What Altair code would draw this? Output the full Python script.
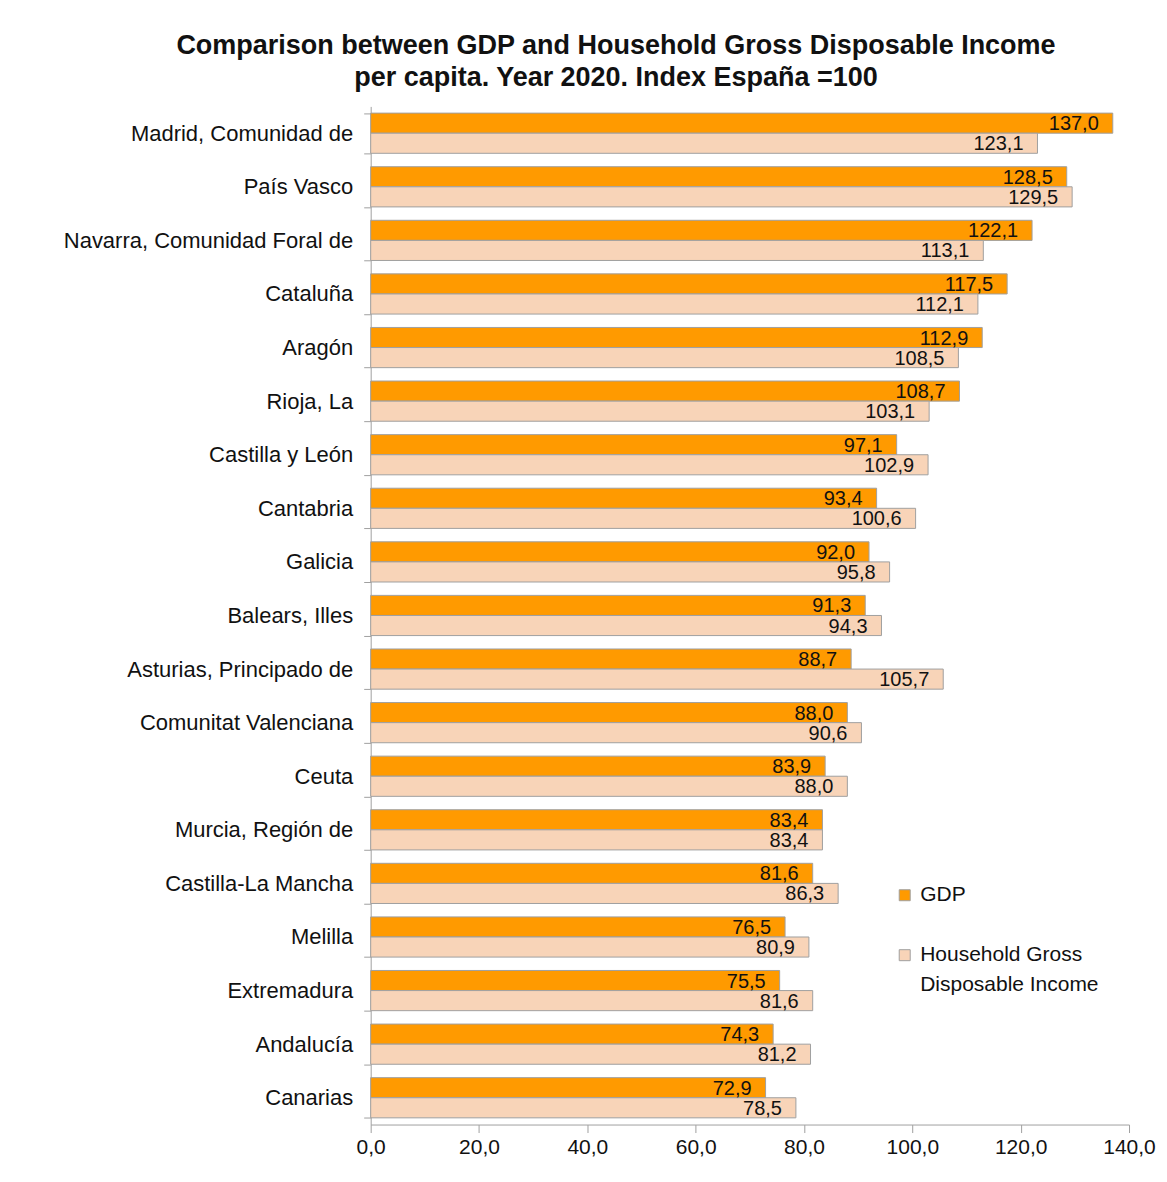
import altair as alt
import pandas as pd

regions = [
    "Madrid, Comunidad de", "País Vasco", "Navarra, Comunidad Foral de", "Cataluña",
    "Aragón", "Rioja, La", "Castilla y León", "Cantabria", "Galicia", "Balears, Illes",
    "Asturias, Principado de", "Comunitat Valenciana", "Ceuta", "Murcia, Región de",
    "Castilla-La Mancha", "Melilla", "Extremadura", "Andalucía", "Canarias",
]
gdp = [137.0, 128.5, 122.1, 117.5, 112.9, 108.7, 97.1, 93.4, 92.0, 91.3,
       88.7, 88.0, 83.9, 83.4, 81.6, 76.5, 75.5, 74.3, 72.9]
hgdi = [123.1, 129.5, 113.1, 112.1, 108.5, 103.1, 102.9, 100.6, 95.8, 94.3,
        105.7, 90.6, 88.0, 83.4, 86.3, 80.9, 81.6, 81.2, 78.5]
series = ["GDP", "Household Gross Disposable Income"]
x_ticks = [0, 20, 40, 60, 80, 100, 120, 140]

# legend entries (blank spacer entries make the two-line label layout)
legend_domain = ["GDP", " ", "Household Gross Disposable Income", "  "]
fill_range = ["#FF9A00", "transparent", "#F8D4B8", "transparent"]
stroke_range = ["#a0a0a0", "transparent", "#a0a0a0", "transparent"]

rows = []
for r, g, h in zip(regions, gdp, hgdi):
    rows.append({"region": r, "series": series[0], "value": g})
    rows.append({"region": r, "series": series[1], "value": h})
df = pd.DataFrame(rows)
df["label"] = df["value"].map(lambda v: f"{v:.1f}".replace(".", ","))

FONT = "Liberation Sans"

y_enc = alt.Y("region:N", sort=regions, title=None,
              scale=alt.Scale(paddingInner=0.25, paddingOuter=0.125),
              axis=alt.Axis(tickBand="extent", labelFontSize=22, labelColor="#111",
                            labelFont=FONT, labelPadding=11, tickSize=7,
                            tickColor="#a0a0a0", domainColor="#a0a0a0", labelLimit=400))
yoff = alt.YOffset("series:N", sort=series,
                   scale=alt.Scale(domain=series, paddingInner=0, paddingOuter=0))
x_enc = alt.X("value:Q", title=None,
              scale=alt.Scale(domain=[0, 140], nice=False),
              axis=alt.Axis(values=x_ticks, grid=False, tickSize=8, tickColor="#a0a0a0",
                            domainColor="#a0a0a0", labelFontSize=21, labelColor="#111",
                            labelFont=FONT, labelPadding=4, labelFlush=False,
                            labelExpr="replace(format(datum.value, '.1f'), '.', ',')"))

legend = alt.Legend(title=None, orient="none", legendX=524, legendY=779,
                    symbolType="square", symbolSize=121, symbolStrokeWidth=1,
                    labelFontSize=21, labelFont=FONT, labelColor="#111",
                    labelLimit=400, rowPadding=8, labelOffset=5,
                    labelBaseline="middle",
                    labelExpr=("datum.label == 'Household Gross Disposable Income' ? 'Household Gross' : "
                               "datum.label == '  ' ? 'Disposable Income' : "
                               "datum.label == ' ' ? '' : datum.label"))

bars = alt.Chart(df).mark_bar(strokeWidth=1).encode(
    y=y_enc, yOffset=yoff, x=x_enc,
    color=alt.Color("series:N", sort=legend_domain,
                    scale=alt.Scale(domain=legend_domain, range=fill_range),
                    legend=legend),
    stroke=alt.Stroke("series:N", sort=legend_domain,
                      scale=alt.Scale(domain=legend_domain, range=stroke_range),
                      legend=legend),
)

texts = alt.Chart(df).mark_text(align="right", baseline="middle", dx=-14, dy=1,
                                fontSize=20, font=FONT, color="#111").encode(
    y=alt.Y("region:N", sort=regions), yOffset=yoff, x="value:Q", text="label:N"
)

chart = alt.layer(bars, texts).properties(
    width=759, height=1019,
    background="white",
    title=alt.TitleParams(
        ["Comparison between GDP and Household Gross Disposable Income",
         "per capita. Year 2020. Index España =100"],
        anchor="middle", dx=-134, fontSize=27, font=FONT, fontWeight="bold",
        color="#111", lineHeight=32, offset=3),
    padding={"left": 363, "top": 98, "right": 30, "bottom": 50},
    autosize=alt.AutoSizeParams(type="none"),
).configure_view(strokeWidth=0, stroke=None)

chart.save("out.html", embed_options={"renderer": "svg", "actions": False})
